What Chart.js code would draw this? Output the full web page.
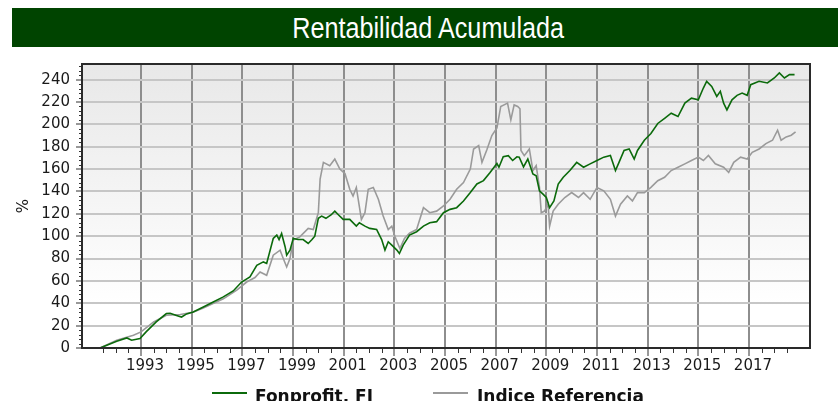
<!DOCTYPE html>
<html>
<head>
<meta charset="utf-8">
<title>Rentabilidad Acumulada</title>
<script src="https://cdn.jsdelivr.net/npm/chart.js@4.4.1/dist/chart.umd.min.js"></script>
<style>
    html, body { margin: 0; padding: 0; background: #fff; overflow: hidden; }
    #wrap { position: relative; width: 838px; height: 401px; }
    #title-bar {
        position: absolute; left: 12px; top: 8px; width: 826px; height: 39px;
        background: #004400; color: #fff; text-align: center;
    }
    #title-bar span {
        display: inline-block; padding-left: 8px;
        font-family: "Liberation Sans", Arial, sans-serif;
        font-size: 30px; line-height: 39px;
        transform: scaleX(0.84); transform-origin: center;
    }
    #chart { position: absolute; left: 0; top: 0; }
    .legend-line { position: absolute; top: 392px; width: 35px; height: 2px; }
    .legend-text {
        position: absolute; top: 386px; white-space: nowrap;
        font-family: "DejaVu Sans", sans-serif; font-weight: bold; font-size: 17px; color: #111;
    }
</style>
</head>
<body>
<div id="wrap">
    <canvas id="chart" width="838" height="401"></canvas>
    <div id="title-bar"><span>Rentabilidad Acumulada</span></div>
    <div id="legend"></div>
</div>
<script>
// Chart data (decimal years)
const fondoName = 'Fonprofit, FI';
const fondoYears = [
    1991.38, 1991.65, 1992.04, 1992.44, 1992.63, 1992.96, 1993.2, 1993.6, 1994.0, 1994.15,
    1994.4, 1994.6, 1994.8, 1995.06, 1995.46, 1995.85, 1996.25, 1996.64, 1996.97, 1997.3,
    1997.57, 1997.83, 1997.96, 1998.22, 1998.36, 1998.45, 1998.55, 1998.69, 1998.75, 1998.88,
    1999.01, 1999.2, 1999.4, 1999.6, 1999.75, 1999.86, 2000.0, 2000.13, 2000.3, 2000.5,
    2000.65, 2000.8, 2000.98, 2001.24, 2001.5, 2001.62, 2001.84, 2002.03, 2002.3, 2002.5,
    2002.63, 2002.76, 2002.9, 2003.1, 2003.2, 2003.35, 2003.6, 2003.88, 2004.15, 2004.4,
    2004.67, 2004.94, 2005.2, 2005.46, 2005.73, 2006.0, 2006.26, 2006.52, 2006.78, 2007.05,
    2007.13, 2007.3, 2007.5, 2007.67, 2007.84, 2007.93, 2008.1, 2008.27, 2008.47, 2008.6,
    2008.73, 2008.87, 2009.0, 2009.13, 2009.3, 2009.47, 2009.67, 2009.93, 2010.2, 2010.47,
    2010.73, 2011.0, 2011.27, 2011.53, 2011.73, 2011.87, 2012.07, 2012.27, 2012.47, 2012.6,
    2012.87, 2013.13, 2013.4, 2013.67, 2013.93, 2014.2, 2014.47, 2014.73, 2015.0, 2015.2,
    2015.33, 2015.53, 2015.73, 2015.87, 2016.0, 2016.13, 2016.33, 2016.53, 2016.73, 2016.93,
    2017.07, 2017.4, 2017.73, 2018.0, 2018.2, 2018.4, 2018.6, 2018.8
];
const fondoValues = [
    0, 2.4, 6, 9, 6.9, 8.4, 14.4, 23.3, 30.8, 31,
    29, 27.7, 30.5, 32.2, 36.7, 41.2, 45.7, 51, 59, 63.6,
    74, 77, 75.6, 98, 101, 97, 102.4, 90.4, 83, 87.5,
    98, 97, 97, 93.5, 97, 100, 116, 118, 116, 119,
    122.4, 119, 115, 115, 109, 112, 109, 107, 106, 97,
    87.6, 95, 92, 87.6, 84.5, 92, 101, 104, 109, 112,
    113, 121, 124, 125.5, 131.5, 139, 146.7, 149.7, 157, 165,
    161.7, 171, 172, 167.7, 171, 170.7, 162, 169, 155.7, 154,
    140.6, 137.6, 134.6, 125.5, 131.6, 146.6, 152.7, 158.7, 166, 161.7,
    164.7, 167.7, 170.7, 172.2, 158.7, 166, 176.7, 178, 169, 176.7,
    185.8, 191.8, 200.8, 205.4, 210, 207, 219, 223.4, 222, 232.5,
    238.5, 234, 225, 229.5, 219, 213, 222, 226, 228, 226,
    235.5, 238.5, 237, 241.5, 246, 241.5, 244.5, 244.5
];

const indiceName = 'Indice Referencia';
const indiceYears = [
    1991.38, 1992.04, 1992.7, 1993.0, 1993.5, 1994.0, 1994.55, 1995.05, 1995.46, 1996.25,
    1996.78, 1997.17, 1997.5, 1997.7, 1997.96, 1998.22, 1998.49, 1998.6, 1998.75, 1998.88,
    1999.01, 1999.27, 1999.6, 1999.8, 2000.0, 2000.07, 2000.2, 2000.45, 2000.65, 2000.85,
    2001.05, 2001.24, 2001.37, 2001.5, 2001.7, 2001.84, 2001.97, 2002.17, 2002.37, 2002.56,
    2002.76, 2002.9, 2003.02, 2003.22, 2003.4, 2003.6, 2003.88, 2004.15, 2004.4, 2004.67,
    2004.94, 2005.2, 2005.46, 2005.73, 2006.0, 2006.13, 2006.33, 2006.46, 2006.65, 2006.85,
    2007.05, 2007.2, 2007.47, 2007.6, 2007.73, 2007.87, 2007.96, 2008.0, 2008.13, 2008.33,
    2008.47, 2008.6, 2008.73, 2008.8, 2008.93, 2009.07, 2009.13, 2009.27, 2009.47, 2009.73,
    2010.0, 2010.27, 2010.47, 2010.73, 2011.0, 2011.27, 2011.53, 2011.73, 2011.93, 2012.2,
    2012.4, 2012.6, 2012.87, 2013.13, 2013.4, 2013.67, 2013.93, 2014.2, 2014.47, 2014.73,
    2015.0, 2015.2, 2015.4, 2015.67, 2016.0, 2016.2, 2016.4, 2016.67, 2016.93, 2017.13,
    2017.4, 2017.67, 2017.93, 2018.13, 2018.27, 2018.47, 2018.67, 2018.84
];
const indiceValues = [
    0, 6.9, 11.4, 14.4, 23.3, 29.3, 29.9, 32, 35.8, 44,
    51.7, 59, 63, 68, 65, 83, 87.5, 81, 72.5, 80,
    96.5, 99.4, 107, 106, 121, 151, 166, 163, 169, 160,
    156, 142, 136, 143.6, 115, 121, 142, 143.6, 133, 118,
    106, 109, 100, 89, 98, 102.7, 106, 125.5, 121, 122.4,
    127, 133, 142, 148, 160, 178, 181, 166, 177, 190,
    196.7, 216, 219, 204, 217.4, 216, 214, 176.7, 172, 178,
    158.7, 163, 143.6, 121, 122.5, 128.6, 109, 122.5, 128.6, 134.6,
    139, 134.6, 139, 133, 143.6, 140.6, 133, 118, 128.6, 136,
    131.6, 139, 139, 143.6, 149.6, 152.7, 158.7, 161.7, 164.7, 167.7,
    170.7, 167.7, 172.2, 164.7, 161.7, 157, 166, 170.7, 169, 175,
    178, 182.8, 185.8, 194.8, 185.8, 188.8, 190.3, 193.3
];

// Axis ticks
const xTickYears = [1993, 1995, 1997, 1999, 2001, 2003, 2005, 2007, 2009, 2011, 2013, 2015, 2017];
const yTickValues = [0, 20, 40, 60, 80, 100, 120, 140, 160, 180, 200, 220, 240];

const fondoColor = '#0b6a0b';
const indiceColor = '#9a9a9a';
const tickFont = { family: 'DejaVu Sans', size: 15 };

// Build the HTML legend
function buildLegend() {
    const legend = document.getElementById('legend');
    const items = [
        { name: fondoName, color: fondoColor, lineX: 212, textX: 255 },
        { name: indiceName, color: indiceColor, lineX: 433, textX: 477 }
    ];
    let html = '';
    items.forEach(item => {
        html += `<div class="legend-line" style="left:${item.lineX}px;background:${item.color}"></div>`;
        html += `<div class="legend-text" style="left:${item.textX}px">${item.name}</div>`;
    });
    legend.innerHTML = html;
}

// Background gradient, frame and minor ticks
const plotFrame = {
    id: 'plotFrame',
    beforeDraw(chart) {
        const { ctx, chartArea: a } = chart;
        const grad = ctx.createLinearGradient(0, a.top, 0, a.bottom);
        grad.addColorStop(0, '#e8e8e8');
        grad.addColorStop(0.85, '#ffffff');
        ctx.save();
        ctx.fillStyle = grad;
        ctx.fillRect(a.left, a.top, a.right - a.left, a.bottom - a.top);
        ctx.restore();
    },
    afterDraw(chart) {
        const { ctx, chartArea: a, scales } = chart;
        ctx.save();
        ctx.strokeStyle = '#333';
        ctx.lineWidth = 1;
        ctx.beginPath();
        for (let v = 1991.5; v <= 2018.5; v += 0.5) {
            if (xTickYears.includes(v)) continue;
            const px = Math.round(scales.x.getPixelForValue(v)) + 0.5;
            ctx.moveTo(px, a.bottom);
            ctx.lineTo(px, a.bottom + 5);
        }
        for (let v = 4; v <= 252; v += 4) {
            if (v % 20 === 0) continue;
            const py = Math.round(scales.y.getPixelForValue(v)) + 0.5;
            ctx.moveTo(a.left - 3, py);
            ctx.lineTo(a.left, py);
        }
        ctx.stroke();
        ctx.lineWidth = 2;
        ctx.strokeStyle = '#2a2a2a';
        ctx.strokeRect(a.left, a.top, a.right - a.left, a.bottom - a.top);
        ctx.restore();
    }
};

function toPoints(xs, ys) {
    return xs.map((x, i) => ({ x: x, y: ys[i] }));
}

document.addEventListener('DOMContentLoaded', function() {
    buildLegend();

    const ctx = document.getElementById('chart').getContext('2d');
    new Chart(ctx, {
        type: 'line',
        data: {
            datasets: [
                {
                    label: fondoName,
                    data: toPoints(fondoYears, fondoValues),
                    borderColor: fondoColor,
                    borderWidth: 1.6,
                    pointRadius: 0,
                    tension: 0
                },
                {
                    label: indiceName,
                    data: toPoints(indiceYears, indiceValues),
                    borderColor: indiceColor,
                    borderWidth: 1.6,
                    pointRadius: 0,
                    tension: 0
                }
            ]
        },
        options: {
            responsive: false,
            animation: false,
            devicePixelRatio: 1,
            layout: { padding: { top: 64, right: 28, left: 0, bottom: 0 } },
            plugins: {
                legend: { display: false },
                tooltip: { enabled: false },
                title: { display: false }
            },
            scales: {
                x: {
                    type: 'linear',
                    min: 1990.67,
                    max: 2019.41,
                    afterBuildTicks: scale => {
                        scale.ticks = xTickYears.map(v => ({ value: v }));
                    },
                    afterFit: scale => { scale.height = 53; },
                    border: { display: false },
                    grid: {
                        color: '#8e8e8e',
                        lineWidth: 2,
                        tickColor: '#333',
                        tickWidth: 1,
                        tickLength: 8
                    },
                    ticks: {
                        font: tickFont,
                        color: '#1a1a1a',
                        padding: 1,
                        labelOffset: 4,
                        maxRotation: 0,
                        autoSkip: false,
                        callback: value => String(value)
                    }
                },
                y: {
                    min: 0,
                    max: 254,
                    afterBuildTicks: scale => {
                        scale.ticks = yTickValues.map(v => ({ value: v }));
                    },
                    afterFit: scale => { scale.width = 82; },
                    border: { display: false },
                    grid: {
                        color: '#c6c6c6',
                        lineWidth: 2,
                        tickColor: '#333',
                        tickWidth: 1,
                        tickLength: 6
                    },
                    ticks: {
                        font: tickFont,
                        color: '#1a1a1a',
                        padding: 6
                    },
                    title: {
                        display: true,
                        text: '%',
                        font: tickFont,
                        color: '#1a1a1a',
                        padding: { top: 15, bottom: 0 }
                    }
                }
            }
        },
        plugins: [plotFrame]
    });
});
</script>
</body>
</html>
